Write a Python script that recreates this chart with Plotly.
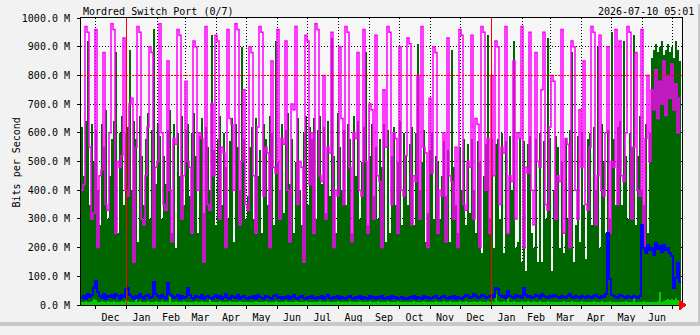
import pandas as pd
import plotly.graph_objects as go

TITLE = "Mordred Switch Port (0/7)"
STAMP = "2026-07-10 05:01"
Y_TITLE = "Bits per Second"
START = "2024-11-17"
END = "2026-07-10 05:01"
RANGE_END = "2026-07-11"
STEP_DAYS = 2
YEAR_MARKS = ["2025-01-01", "2026-01-01"]
THRESHOLD_M = 800
Y_TICKS_M = [0, 100, 200, 300, 400, 500, 600, 700, 800, 900, 1000]

# maximum input rate, units of 10 M (one value per 2 days)
max_in_10M = [
    62, 45, 64, 92, 35, 63, 50,
    61, 40, 28, 63, 55, 68, 30, 45, 58, 64, 88, 25, 60, 66, 35, 60,
    62, 89, 40, 64, 58, 22, 66, 52, 35, 58, 67, 30, 61, 96, 42, 63,
    59, 30, 52, 42, 61, 68, 25, 63, 20, 60, 45, 66, 35, 61,
    63, 38, 60, 67, 52, 25, 59, 65, 32, 62, 55, 40, 94, 54, 28, 58,
    66, 35, 60, 48, 30, 57, 65, 22, 63, 55, 40, 90, 58, 30, 38,
    55, 62, 30, 65, 45, 54, 25, 63, 58, 35, 66, 60, 28, 92, 50, 40,
    63, 32, 61, 67, 42, 58, 25, 50, 65, 40, 28, 60, 66, 35, 62,
    58, 65, 30, 61, 66, 42, 62, 32, 64, 38, 93, 52, 25, 67, 55, 40,
    61, 35, 63, 58, 25, 66, 45, 64, 30, 50, 62, 88, 28, 52, 63, 38,
    55, 30, 58, 48, 63, 22, 61, 25, 52, 62, 35, 50, 64, 28, 60,
    52, 35, 56, 62, 28, 60, 91, 40, 50, 61, 22, 32, 54, 60, 30, 52,
    50, 30, 45, 57, 38, 54, 22, 89, 48, 35, 25, 55, 40, 58, 28,
    56, 32, 58, 40, 25, 57, 50, 18, 45, 56, 94, 30, 58, 20, 56,
    58, 30, 60, 18, 57, 25, 59, 40, 92, 20, 22, 58, 15, 57, 12, 56,
    59, 25, 20, 58, 15, 60, 15, 57, 30, 93, 58, 12, 40, 59,
    55, 20, 50, 18, 58, 30, 61, 88, 15, 28, 59, 22, 60, 35, 16, 58,
    60, 28, 62, 40, 90, 20, 63, 50, 25, 61, 30, 95, 58, 35, 62,
    64, 35, 92, 52, 30, 60, 55, 94, 28, 52, 66, 40, 35, 63, 25, 60,
    86, 89, 91, 88, 90, 92, 87, 89, 91, 88, 90, 86, 92, 89, 85,
]

# maximum output rate, units of 10 M
max_out_10M = [
    40, 42, 97, 95, 55, 30, 32,
    96, 20, 45, 47, 88, 35, 33, 60, 98, 96, 25, 50, 48, 52, 93, 40,
    38, 70, 72, 15, 55, 97, 95, 30, 28, 45, 62, 90, 88, 20, 48, 50,
    98, 60, 35, 33, 85, 40, 22, 58, 56, 96, 94, 30, 45, 78,
    50, 48, 25, 92, 90, 40, 60, 58, 15, 97, 35, 33, 70, 45, 94, 92,
    30, 55, 53, 20, 96, 65, 63, 40, 98, 96, 28, 50, 75, 35, 33,
    90, 88, 45, 25, 62, 97, 95, 38, 55, 53, 20, 85, 48, 46, 96, 30,
    58, 56, 92, 40, 22, 70, 68, 97, 35, 50, 48, 15, 94, 92, 42,
    60, 25, 98, 96, 45, 43, 80, 30, 55, 53, 95, 20, 40, 38, 90, 65,
    35, 97, 95, 48, 22, 60, 58, 88, 40, 38, 96, 50, 25, 70, 68, 30,
    94, 45, 43, 20, 75, 55, 97, 95, 35, 60, 58, 25, 90, 40, 38,
    52, 93, 91, 28, 45, 43, 80, 30, 97, 55, 53, 20, 72, 46, 90, 88,
    25, 40, 38, 60, 22, 93, 45, 43, 30, 55, 20, 96, 94, 35, 33,
    50, 48, 94, 30, 65, 63, 20, 97, 95, 40, 58, 25, 80, 45, 92,
    90, 35, 55, 53, 97, 25, 45, 43, 85, 30, 60, 58, 97, 20, 48, 46,
    95, 40, 28, 88, 50, 48, 75, 95, 35, 33, 62, 80, 78, 30,
    45, 43, 96, 25, 58, 56, 20, 92, 90, 40, 30, 68, 48, 85, 35, 33,
    55, 97, 95, 28, 45, 94, 40, 38, 60, 90, 25, 50, 48, 96, 35,
    92, 45, 43, 60, 97, 95, 30, 55, 88, 40, 38, 96, 20, 58, 80, 50,
    75, 68, 82, 65, 78, 70, 85, 66, 80, 72, 84, 68, 77, 60, 72,
]

# average output rate, M
avg_out_M = [
    25, 30, 22, 40, 28, 35, 60,
    85, 45, 30, 25, 38, 22, 30, 28, 35, 25, 40, 30, 22, 35, 28, 55,
    60, 35, 28, 22, 30, 25, 40, 28, 22, 30, 35, 25, 28, 80, 40, 30,
    25, 35, 28, 22, 75, 40, 30, 25, 28, 35, 22, 30, 25, 28,
    60, 35, 25, 22, 30, 28, 25, 35, 22, 28, 30, 25, 22, 28, 35, 25,
    30, 22, 28, 40, 25, 22, 30, 28, 25, 35, 22, 28, 30, 25, 22,
    28, 25, 30, 22, 35, 28, 25, 22, 30, 28, 25, 22, 30, 35, 25, 28,
    22, 28, 25, 30, 22, 28, 35, 25, 22, 28, 30, 25, 22, 28, 25,
    30, 25, 22, 28, 25, 30, 22, 28, 35, 25, 22, 28, 25, 30, 22, 28,
    25, 22, 28, 30, 25, 22, 28, 25, 30, 22, 28, 25, 22, 30, 25, 28,
    22, 28, 25, 30, 22, 25, 28, 22, 30, 25, 28, 22, 25, 28, 22,
    25, 22, 28, 25, 30, 22, 28, 25, 22, 30, 25, 28, 22, 25, 28, 30,
    25, 22, 28, 30, 25, 22, 28, 25, 30, 22, 28, 25, 22, 28, 35,
    30, 25, 28, 40, 30, 25, 28, 35, 30, 25, 28, 30, 35, 28, 60,
    55, 35, 28, 30, 25, 50, 30, 28, 25, 35, 28, 30, 25, 60, 35, 28,
    30, 25, 28, 35, 30, 25, 40, 30, 28, 25, 30, 28, 35, 30,
    28, 25, 30, 28, 25, 30, 40, 28, 25, 30, 28, 25, 30, 28, 25, 30,
    28, 25, 30, 35, 28, 25, 30, 28, 40, 250, 90, 35, 30, 28, 25,
    35, 30, 28, 25, 30, 28, 25, 30, 28, 25, 30, 280, 200, 180, 210, 190,
    200, 175, 215, 195, 205, 185, 210, 190, 200, 180, 170, 60, 95, 145, 80,
]

# average input rate, M
avg_in_M = [
    12, 10, 15, 9, 11, 14, 20,
    18, 12, 10, 14, 9, 11, 13, 10, 12, 15, 9, 11, 10, 13, 12, 16,
    14, 10, 12, 9, 35, 11, 13, 10, 12, 9, 14, 11, 10, 12, 15, 11,
    10, 13, 9, 12, 11, 30, 10, 12, 14, 9, 11, 10, 13, 12,
    11, 9, 12, 10, 14, 11, 9, 13, 10, 12, 11, 28, 10, 9, 12, 11,
    13, 10, 12, 9, 11, 14, 10, 12, 11, 9, 13, 10, 12, 11, 10,
    12, 9, 11, 13, 10, 12, 9, 11, 14, 10, 12, 11, 9, 13, 10, 12,
    11, 10, 13, 9, 12, 11, 10, 14, 9, 12, 11, 10, 13, 12, 9,
    10, 12, 11, 9, 13, 10, 12, 11, 14, 9, 10, 12, 11, 13, 10, 9,
    12, 11, 10, 13, 9, 12, 11, 10, 14, 12, 9, 11, 10, 13, 12, 11,
    10, 13, 11, 9, 12, 10, 14, 11, 9, 12, 10, 13, 11, 10, 12,
    9, 11, 12, 10, 13, 11, 9, 12, 10, 14, 11, 10, 12, 9, 11, 13,
    11, 10, 12, 14, 9, 11, 13, 10, 12, 11, 9, 13, 10, 12, 14,
    12, 10, 11, 13, 9, 12, 14, 10, 11, 12, 15, 10, 13, 11, 40,
    15, 12, 10, 14, 11, 25, 12, 10, 13, 11, 12, 10, 14, 12, 11, 13,
    12, 11, 13, 10, 12, 14, 11, 10, 12, 13, 11, 10, 12, 11,
    10, 12, 11, 13, 10, 12, 11, 14, 10, 12, 11, 10, 13, 12, 11, 10,
    12, 11, 13, 10, 12, 11, 14, 10, 12, 11, 13, 10, 12, 11, 10,
    12, 10, 11, 13, 10, 12, 11, 35, 10, 12, 11, 10, 13, 11, 12, 10,
    10, 12, 11, 14, 45, 12, 15, 18, 20, 16, 22, 19, 25, 18, 15,
]

FONT = "DejaVu Sans Mono"


def sx(n):
    xs = list(pd.date_range(START, periods=n, freq=f"{STEP_DAYS}D"))
    return xs + [pd.Timestamp(END)]


def sy(vals, scale):
    ys = [v * scale for v in vals]
    return ys + [ys[-1]]


fig = go.Figure()
fig.add_trace(go.Scatter(x=sx(len(max_in_10M)), y=sy(max_in_10M, 1e7), mode="lines",
                         line=dict(width=0, shape="hv"), fill="tozeroy",
                         fillcolor="#006600", hoverinfo="skip"))
fig.add_trace(go.Scatter(x=sx(len(avg_in_M)), y=sy(avg_in_M, 1e6), mode="lines",
                         line=dict(width=0, shape="hv"), fill="tozeroy",
                         fillcolor="#00CC00", hoverinfo="skip"))
fig.add_trace(go.Scatter(x=sx(len(max_out_10M)), y=sy(max_out_10M, 1e7), mode="lines",
                         line=dict(width=1.5, shape="hv", color="#FF00FF"), hoverinfo="skip"))
fig.add_trace(go.Scatter(x=sx(len(avg_out_M)), y=sy(avg_out_M, 1e6), mode="lines",
                         line=dict(width=2, shape="hv", color="#0000FF"), hoverinfo="skip"))

L, R, T, B = 81, 18, 15, 22
W, H = 700, 335
pw, ph = W - L - R, H - T - B


def px_x(p):
    return (p - L) / pw


def px_y(p):
    return (H - B - p) / ph


shapes = []
for d in YEAR_MARKS:
    shapes.append(dict(type="line", xref="x", yref="paper", x0=d, x1=d, y0=0, y1=1,
                       line=dict(color="#FF0000", width=1), layer="above"))
shapes.append(dict(type="line", xref="paper", yref="y", x0=0, x1=1,
                   y0=THRESHOLD_M * 1e6, y1=THRESHOLD_M * 1e6,
                   line=dict(color="#FF0000", width=1, dash="2px,1px"), layer="above"))
shapes.append(dict(type="path", xref="paper", yref="paper", xsizemode="pixel",
                   ysizemode="pixel", xanchor=1, yanchor=0,
                   path="M -3 5 L -3 -5 L 4 0 Z", fillcolor="#FF0000",
                   line=dict(color="#FF0000", width=1), layer="above"))
# frame shading
shapes.append(dict(type="rect", xref="paper", yref="paper", x0=px_x(0), x1=px_x(700),
                   y0=px_y(335), y1=px_y(331), fillcolor="#C8C8C8", line=dict(width=0),
                   layer="above"))
shapes.append(dict(type="rect", xref="paper", yref="paper", x0=px_x(698), x1=px_x(700),
                   y0=px_y(335), y1=px_y(0), fillcolor="#C8C8C8", line=dict(width=0),
                   layer="above"))

annotations = [
    dict(text=TITLE, xref="paper", yref="paper", x=px_x(81), y=px_y(8),
         xanchor="left", yanchor="middle", showarrow=False,
         font=dict(family=FONT, size=10, color="black")),
    dict(text=STAMP, xref="paper", yref="paper", x=px_x(696), y=px_y(8),
         xanchor="right", yanchor="middle", showarrow=False,
         font=dict(family=FONT, size=10, color="black")),
    dict(text=Y_TITLE, xref="paper", yref="paper", x=px_x(16), y=px_y(165),
         xanchor="center", yanchor="middle", showarrow=False, textangle=-90,
         font=dict(family=FONT, size=10, color="black")),
]

grid = dict(showgrid=True, gridcolor="black", gridwidth=1, griddash="1px,2px",
            showline=True, mirror=True, linecolor="black", linewidth=1,
            ticks="outside", ticklen=3, tickcolor="black", zeroline=False,
            layer="above traces", tickfont=dict(family=FONT, size=10, color="black"))

fig.update_layout(
    width=W, height=H, margin=dict(l=L, r=R, t=T, b=B),
    paper_bgcolor="#F2F2F2", plot_bgcolor="#F6F6F6", showlegend=False,
    xaxis=dict(type="date", range=[START, RANGE_END], dtick="M1", tick0="2024-12-01",
               tickformat="%b", ticklabelmode="period", **grid),
    yaxis=dict(range=[0, 1000e6], tickmode="array",
               tickvals=[v * 1e6 for v in Y_TICKS_M],
               ticktext=[f"{v:.1f} M" for v in Y_TICKS_M],
               ticklabelstandoff=5, **grid),
    shapes=shapes, annotations=annotations,
)

CRISP = ("document.querySelectorAll('.js-plotly-plot .js-fill, "
         ".js-plotly-plot .js-line, .js-plotly-plot .shapelayer path')"
         ".forEach(function(p){if((p.style.stroke||'').indexOf('255, 0, 255')<0)"
         "{p.style.shapeRendering='crispEdges';}});")
fig.write_html("out.html", post_script=CRISP)
